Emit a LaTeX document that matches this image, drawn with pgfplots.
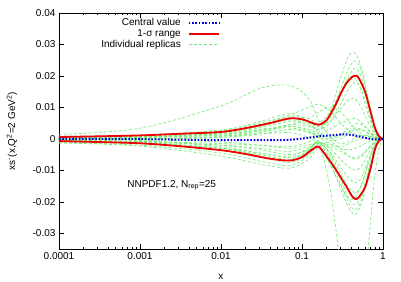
\documentclass[border=0pt]{standalone}
\usepackage{fontspec}
\setmainfont{Liberation Sans}
\usepackage{pgfplots}
\pgfplotsset{compat=1.18}
\definecolor{repgreen}{RGB}{110,235,110}
\definecolor{cblue}{RGB}{0,0,235}
\definecolor{cred}{RGB}{240,0,0}
\begin{document}
\begin{tikzpicture}
\useasboundingbox (-59pt,-32pt) rectangle (342pt,249pt);
\begin{axis}[
  scale only axis, width=324pt, height=236pt,
  xmode=log, xmin=1e-4, xmax=1, ymin=-0.035, ymax=0.04,
  scaled y ticks=false, scaled x ticks=false,
  xtick={1e-4,1e-3,1e-2,1e-1,1},
  xticklabels={0.0001,0.001,0.01,0.1,1},
  minor xtick={2e-4,3e-4,4e-4,5e-4,6e-4,7e-4,8e-4,9e-4,2e-3,3e-3,4e-3,5e-3,6e-3,7e-3,8e-3,9e-3,0.02,0.03,0.04,0.05,0.06,0.07,0.08,0.09,0.2,0.3,0.4,0.5,0.6,0.7,0.8,0.9},
  ytick={-0.03,-0.02,-0.01,0,0.01,0.02,0.03,0.04},
  yticklabels={-0.03,-0.02,-0.01,0,0.01,0.02,0.03,0.04},
  minor ytick={},
  tick align=inside,
  major tick length=5pt, minor tick length=2.5pt,
  tick style={black, line width=0.5pt},
  axis line style={line width=0.8pt},
  ticklabel style={font=\fontsize{10}{12}\selectfont},
  xlabel={x},
  ylabel={xs\textsuperscript{-}(x,Q\textsuperscript{2}=2 GeV\textsuperscript{2})},
  label style={font=\fontsize{10}{12}\selectfont},
  every axis x label/.style={at={(axis description cs:0.5,-0.119)}, anchor=center},
  every axis y label/.style={at={(axis description cs:-0.145,0.5)}, anchor=center, rotate=90},
  legend plot pos=right,
  legend image code/.code={\draw[#1] (0pt,0pt) -- (30pt,0pt);},
  legend style={at={(axis description cs:0.497,0.979)}, anchor=north east,
    draw=none, fill=none, inner sep=0pt, column sep=7pt, row sep=0.7pt,
    nodes={inner sep=0pt, text height=7.5pt, text depth=2.5pt},
    font=\fontsize{10}{12}\selectfont, cells={anchor=east}},
  rep/.style={repgreen, line width=0.6pt, dash pattern=on 3pt off 2pt, smooth, tension=0.55, forget plot},
]
\addlegendimage{cblue, line width=2pt, dash pattern=on 1.6pt off 1.7pt}
\addlegendentry{Central value}
\addlegendimage{cred, line width=1.8pt}
\addlegendentry{1-σ range}
\addlegendimage{repgreen, line width=0.6pt, dash pattern=on 3pt off 2pt}
\addlegendentry{Individual replicas}

% replicas
\addplot[rep] coordinates {(1e-4,0.0014)(1e-3,0.0034)(0.01,0.0105)(0.03,0.0160)(0.07,0.0170)(0.12,0.0130)(0.16,0.0060)(0.22,0.0008)(0.3,-0.0015)(0.38,-0.0008)(0.46,0.0003)(0.55,0.0010)(0.65,0.0010)(0.78,0.0005)(0.9,0.0001)(1,0)};
\addplot[rep] coordinates {(1e-4,0.0005)(1e-3,0.0008)(0.01,0.0015)(0.03,0.0028)(0.07,0.0035)(0.12,0.0022)(0.16,0.0020)(0.22,0.0080)(0.3,0.0195)(0.38,0.0265)(0.46,0.0270)(0.55,0.0220)(0.65,0.0135)(0.78,0.0045)(0.9,0.0008)(1,0)};
\addplot[rep] coordinates {(1e-4,0.0003)(1e-3,0.0006)(0.01,0.0018)(0.03,0.0035)(0.07,0.0055)(0.12,0.0045)(0.16,0.0030)(0.22,0.0070)(0.3,0.0160)(0.38,0.0225)(0.46,0.0248)(0.55,0.0210)(0.65,0.0130)(0.78,0.0045)(0.9,0.0009)(1,0)};
\addplot[rep] coordinates {(1e-4,0.0006)(1e-3,0.0010)(0.01,0.0022)(0.03,0.0040)(0.07,0.0060)(0.12,0.0050)(0.16,0.0040)(0.22,0.0065)(0.3,0.0140)(0.38,0.0200)(0.46,0.0225)(0.55,0.0190)(0.65,0.0115)(0.78,0.0040)(0.9,0.0008)(1,0)};
\addplot[rep] coordinates {(1e-4,-0.0002)(1e-3,0.0004)(0.01,0.0020)(0.03,0.0045)(0.07,0.0070)(0.12,0.0065)(0.16,0.0050)(0.22,0.0085)(0.3,0.0150)(0.38,0.0195)(0.46,0.0190)(0.55,0.0145)(0.65,0.0080)(0.78,0.0025)(0.9,0.0005)(1,0)};
\addplot[rep] coordinates {(1e-4,0.0002)(1e-3,0.0005)(0.01,0.0012)(0.03,0.0025)(0.07,0.0045)(0.12,0.0040)(0.16,0.0030)(0.22,0.0050)(0.3,0.0110)(0.38,0.0160)(0.46,0.0180)(0.55,0.0155)(0.65,0.0095)(0.78,0.0030)(0.9,0.0006)(1,0)};
\addplot[rep] coordinates {(1e-4,0.0004)(1e-3,0.0009)(0.01,0.0025)(0.03,0.0050)(0.07,0.0075)(0.12,0.0100)(0.16,0.0110)(0.22,0.0090)(0.3,0.0050)(0.38,0.0025)(0.46,0.0015)(0.55,0.0010)(0.65,0.0008)(0.78,0.0004)(0.9,0.0001)(1,0)};
\addplot[rep] coordinates {(1e-4,0.0000)(1e-3,0.0003)(0.01,0.0015)(0.03,0.0030)(0.07,0.0045)(0.12,0.0065)(0.16,0.0085)(0.22,0.0100)(0.3,0.0085)(0.38,0.0055)(0.46,0.0030)(0.55,0.0015)(0.65,0.0008)(0.78,0.0003)(0.9,0.0001)(1,0)};
\addplot[rep] coordinates {(1e-4,0.0008)(1e-3,0.0012)(0.01,0.0028)(0.03,0.0055)(0.07,0.0080)(0.12,0.0055)(0.16,0.0020)(0.22,0.0005)(0.3,0.0015)(0.38,0.0035)(0.46,0.0048)(0.55,0.0045)(0.65,0.0030)(0.78,0.0012)(0.9,0.0003)(1,0)};
\addplot[rep] coordinates {(1e-4,-0.0003)(1e-3,-0.0002)(0.01,0.0005)(0.03,0.0020)(0.07,0.0040)(0.12,0.0030)(0.16,0.0015)(0.22,-0.0005)(0.3,0.0000)(0.38,0.0020)(0.46,0.0030)(0.55,0.0028)(0.65,0.0018)(0.78,0.0007)(0.9,0.0002)(1,0)};
\addplot[rep] coordinates {(1e-4,0.0001)(1e-3,0.0006)(0.01,0.0020)(0.03,0.0040)(0.07,0.0065)(0.12,0.0055)(0.16,0.0045)(0.22,0.0055)(0.3,0.0095)(0.38,0.0125)(0.46,0.0125)(0.55,0.0095)(0.65,0.0055)(0.78,0.0018)(0.9,0.0004)(1,0)};
\addplot[rep] coordinates {(1e-4,0.0003)(1e-3,0.0002)(0.01,0.0005)(0.03,0.0015)(0.07,0.0030)(0.12,0.0020)(0.16,0.0005)(0.22,-0.0015)(0.3,-0.0030)(0.38,-0.0035)(0.46,-0.0030)(0.55,-0.0020)(0.65,-0.0010)(0.78,-0.0003)(0.9,-0.0001)(1,0)};
\addplot[rep] coordinates {(1e-4,-0.0005)(1e-3,-0.0008)(0.01,-0.0015)(0.03,-0.0020)(0.07,-0.0025)(0.12,-0.0010)(0.16,0.0010)(0.22,0.0030)(0.3,0.0050)(0.38,0.0060)(0.46,0.0065)(0.55,0.0050)(0.65,0.0030)(0.78,0.0010)(0.9,0.0002)(1,0)};
\addplot[rep] coordinates {(1e-4,-0.0005)(1e-3,-0.0009)(0.01,-0.0020)(0.03,-0.0035)(0.07,-0.0050)(0.12,-0.0035)(0.16,-0.0020)(0.22,-0.0150)(0.3,-0.0400)(0.38,-0.0550)(0.46,-0.0580)(0.55,-0.0520)(0.65,-0.0360)(0.78,-0.0130)(0.9,-0.0030)(1,0)};
\addplot[rep] coordinates {(1e-4,-0.0008)(1e-3,-0.0015)(0.01,-0.0035)(0.03,-0.0055)(0.07,-0.0070)(0.12,-0.0040)(0.16,-0.0010)(0.22,-0.0070)(0.3,-0.0160)(0.38,-0.0220)(0.46,-0.0240)(0.55,-0.0200)(0.65,-0.0120)(0.78,-0.0040)(0.9,-0.0008)(1,0)};
\addplot[rep] coordinates {(1e-4,-0.0012)(1e-3,-0.0020)(0.01,-0.0045)(0.03,-0.0070)(0.07,-0.0085)(0.12,-0.0055)(0.16,-0.0020)(0.22,-0.0060)(0.3,-0.0145)(0.38,-0.0205)(0.46,-0.0225)(0.55,-0.0190)(0.65,-0.0115)(0.78,-0.0035)(0.9,-0.0007)(1,0)};
\addplot[rep] coordinates {(1e-4,-0.0003)(1e-3,-0.0010)(0.01,-0.0030)(0.03,-0.0050)(0.07,-0.0065)(0.12,-0.0035)(0.16,-0.0005)(0.22,-0.0050)(0.3,-0.0130)(0.38,-0.0190)(0.46,-0.0210)(0.55,-0.0175)(0.65,-0.0105)(0.78,-0.0032)(0.9,-0.0006)(1,0)};
\addplot[rep] coordinates {(1e-4,-0.0010)(1e-3,-0.0015)(0.01,-0.0030)(0.03,-0.0045)(0.07,-0.0060)(0.12,-0.0040)(0.16,-0.0025)(0.22,-0.0080)(0.3,-0.0150)(0.38,-0.0190)(0.46,-0.0185)(0.55,-0.0140)(0.65,-0.0080)(0.78,-0.0025)(0.9,-0.0005)(1,0)};
\addplot[rep] coordinates {(1e-4,0.0000)(1e-3,-0.0005)(0.01,-0.0025)(0.03,-0.0045)(0.07,-0.0055)(0.12,-0.0030)(0.16,-0.0010)(0.22,-0.0045)(0.3,-0.0110)(0.38,-0.0155)(0.46,-0.0170)(0.55,-0.0145)(0.65,-0.0085)(0.78,-0.0025)(0.9,-0.0005)(1,0)};
\addplot[rep] coordinates {(1e-4,-0.0006)(1e-3,-0.0010)(0.01,-0.0020)(0.03,-0.0030)(0.07,-0.0040)(0.12,-0.0025)(0.16,-0.0015)(0.22,-0.0040)(0.3,-0.0090)(0.38,-0.0125)(0.46,-0.0140)(0.55,-0.0120)(0.65,-0.0070)(0.78,-0.0020)(0.9,-0.0004)(1,0)};
\addplot[rep] coordinates {(1e-4,0.0002)(1e-3,-0.0002)(0.01,-0.0010)(0.03,-0.0020)(0.07,-0.0030)(0.12,-0.0020)(0.16,-0.0010)(0.22,-0.0030)(0.3,-0.0065)(0.38,-0.0090)(0.46,-0.0100)(0.55,-0.0085)(0.65,-0.0050)(0.78,-0.0015)(0.9,-0.0003)(1,0)};
\addplot[rep] coordinates {(1e-4,-0.0013)(1e-3,-0.0023)(0.01,-0.0055)(0.03,-0.0080)(0.07,-0.0093)(0.12,-0.0065)(0.16,-0.0025)(0.22,-0.0010)(0.3,-0.0030)(0.38,-0.0055)(0.46,-0.0065)(0.55,-0.0055)(0.65,-0.0035)(0.78,-0.0010)(0.9,-0.0002)(1,0)};
\addplot[rep] coordinates {(1e-4,-0.0004)(1e-3,-0.0012)(0.01,-0.0030)(0.03,-0.0055)(0.07,-0.0075)(0.12,-0.0050)(0.16,-0.0015)(0.22,-0.0025)(0.3,-0.0040)(0.38,-0.0055)(0.46,-0.0060)(0.55,-0.0050)(0.65,-0.0030)(0.78,-0.0010)(0.9,-0.0002)(1,0)};
\addplot[rep] coordinates {(1e-4,0.0005)(1e-3,0.0007)(0.01,0.0010)(0.03,0.0015)(0.07,0.0020)(0.12,0.0005)(0.16,-0.0010)(0.22,-0.0020)(0.3,-0.0025)(0.38,-0.0015)(0.46,-0.0005)(0.55,0.0000)(0.65,0.0002)(0.78,0.0001)(0.9,0.0000)(1,0)};
\addplot[rep] coordinates {(1e-4,-0.0002)(1e-3,0.0000)(0.01,0.0008)(0.03,0.0025)(0.07,0.0040)(0.12,0.0025)(0.16,0.0005)(0.22,0.0000)(0.3,0.0010)(0.38,0.0025)(0.46,0.0035)(0.55,0.0030)(0.65,0.0020)(0.78,0.0007)(0.9,0.0001)(1,0)};

% 1-sigma range
\addplot[cred, line width=1.8pt, smooth, forget plot] coordinates {(1e-4,0.0006)(3e-4,0.0008)(1e-3,0.0011)(3e-3,0.0016)(0.01,0.0022)(0.02,0.0034)(0.04,0.0050)(0.07,0.0065)(0.1,0.0062)(0.13,0.0052)(0.16,0.0045)(0.2,0.0059)(0.25,0.0100)(0.3,0.0143)(0.35,0.0175)(0.42,0.0198)(0.46,0.0201)(0.5,0.0194)(0.6,0.0150)(0.7,0.0087)(0.8,0.0033)(0.9,0.0007)(1,0)};
\addplot[cred, line width=1.8pt, smooth, forget plot] coordinates {(1e-4,-0.0007)(3e-4,-0.0010)(1e-3,-0.0014)(3e-3,-0.0023)(0.01,-0.0036)(0.02,-0.0048)(0.04,-0.0063)(0.07,-0.0069)(0.1,-0.0058)(0.13,-0.0036)(0.16,-0.0025)(0.2,-0.0055)(0.25,-0.0090)(0.3,-0.0122)(0.35,-0.0150)(0.42,-0.0184)(0.46,-0.0191)(0.5,-0.0186)(0.6,-0.0154)(0.7,-0.0095)(0.8,-0.0031)(0.9,-0.0005)(1,0)};

% central value
\addplot[cblue, line width=2pt, dash pattern=on 1.6pt off 1.7pt, smooth, forget plot] coordinates {(1e-4,0.0000)(1e-3,-0.0001)(0.01,-0.0004)(0.04,-0.0004)(0.07,-0.0003)(0.1,0.0001)(0.13,0.0005)(0.16,0.0008)(0.2,0.0010)(0.25,0.0012)(0.3,0.0014)(0.35,0.0014)(0.42,0.0012)(0.5,0.0008)(0.6,0.0003)(0.7,0.0000)(0.8,-0.0002)(0.9,-0.0001)(1,0)};

\node[anchor=west, font=\fontsize{10}{12}\selectfont] at (rel axis cs:0.2,0.271) {NNPDF1.2, N\textsubscript{rep}=25};
\end{axis}
\end{tikzpicture}
\end{document}
